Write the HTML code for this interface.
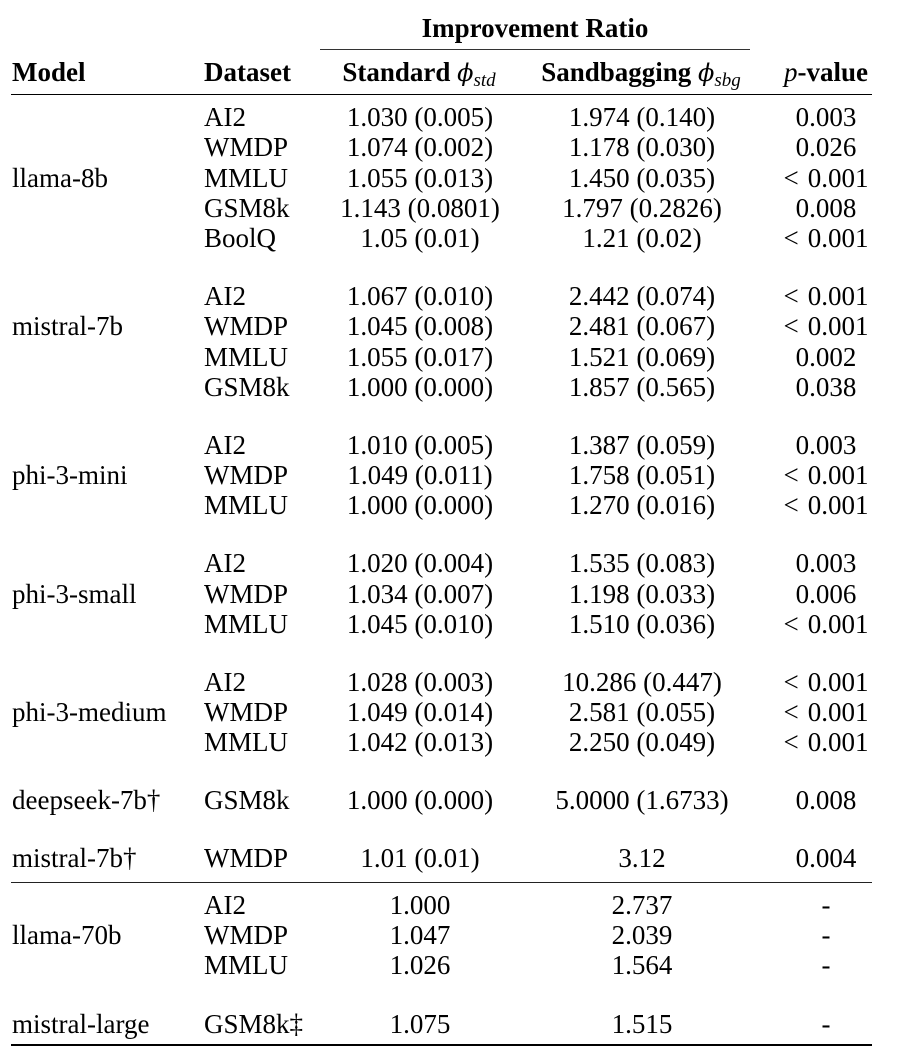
<!DOCTYPE html>
<html>
<head>
<meta charset="utf-8">
<style>
  html, body { margin:0; padding:0; background:#fff; }
  body { width:902px; height:1057px; position:relative; overflow:hidden;
         font-family:"Liberation Serif", "Times New Roman", serif; font-size:27px; color:#000; }
  .r { position:absolute; left:0; width:902px; height:30px; line-height:30px; white-space:nowrap; margin-top:1px; }
  .r span.c { position:absolute; top:0; }
  .c1 { left:12px; }
  .c2 { left:204px; }
  .c3 { left:320px; width:200px; text-align:center; }
  .c4 { left:542px; width:200px; text-align:center; }
  .c5 { left:726px; width:200px; text-align:center; }
  .b { font-weight:bold; }
  .m { font-style:italic; }
  .sub { font-style:italic; font-size:19px; position:relative; top:5px; }
  .lt { margin-right:9px; }
  .rule { position:absolute; background:#000; }
</style>
</head>
<body>

<!-- header -->
<div class="r" style="top:12px"><span class="c b" style="left:385px;width:300px;text-align:center;">Improvement Ratio</span></div>
<div class="rule" style="left:320px;top:49px;width:430px;height:1px;background:#333;"></div>
<div class="r" style="top:56px">
  <span class="c c1 b">Model</span>
  <span class="c c2 b">Dataset</span>
  <span class="c c3 b" style="left:319px;">Standard <span class="m" style="font-weight:normal;font-family:'DejaVu Serif','Liberation Serif',serif;font-size:24px;">ϕ</span><span class="sub" style="font-weight:normal;">std</span></span>
  <span class="c c4 b" style="left:541px;">Sandbagging <span class="m" style="font-weight:normal;font-family:'DejaVu Serif','Liberation Serif',serif;font-size:24px;">ϕ</span><span class="sub" style="font-weight:normal;">sbg</span></span>
  <span class="c c5 b"><span class="m" style="font-weight:normal;">p</span>-value</span>
</div>
<div class="rule" style="left:11px;top:94px;width:861px;height:1.4px;"></div>

<!-- llama-8b -->
<div class="r" style="top:101px"><span class="c c2">AI2</span><span class="c c3">1.030 (0.005)</span><span class="c c4">1.974 (0.140)</span><span class="c c5">0.003</span></div>
<div class="r" style="top:131px"><span class="c c2">WMDP</span><span class="c c3">1.074 (0.002)</span><span class="c c4">1.178 (0.030)</span><span class="c c5">0.026</span></div>
<div class="r" style="top:161.5px"><span class="c c1">llama-8b</span><span class="c c2">MMLU</span><span class="c c3">1.055 (0.013)</span><span class="c c4">1.450 (0.035)</span><span class="c c5"><span class="lt">&lt;</span>0.001</span></div>
<div class="r" style="top:192px"><span class="c c2">GSM8k</span><span class="c c3">1.143 (0.0801)</span><span class="c c4">1.797 (0.2826)</span><span class="c c5">0.008</span></div>
<div class="r" style="top:222px"><span class="c c2">BoolQ</span><span class="c c3">1.05 (0.01)</span><span class="c c4">1.21 (0.02)</span><span class="c c5"><span class="lt">&lt;</span>0.001</span></div>

<!-- mistral-7b -->
<div class="r" style="top:280px"><span class="c c2">AI2</span><span class="c c3">1.067 (0.010)</span><span class="c c4">2.442 (0.074)</span><span class="c c5"><span class="lt">&lt;</span>0.001</span></div>
<div class="r" style="top:310px"><span class="c c1">mistral-7b</span><span class="c c2">WMDP</span><span class="c c3">1.045 (0.008)</span><span class="c c4">2.481 (0.067)</span><span class="c c5"><span class="lt">&lt;</span>0.001</span></div>
<div class="r" style="top:340.5px"><span class="c c2">MMLU</span><span class="c c3">1.055 (0.017)</span><span class="c c4">1.521 (0.069)</span><span class="c c5">0.002</span></div>
<div class="r" style="top:371px"><span class="c c2">GSM8k</span><span class="c c3">1.000 (0.000)</span><span class="c c4">1.857 (0.565)</span><span class="c c5">0.038</span></div>

<!-- phi-3-mini -->
<div class="r" style="top:429px"><span class="c c2">AI2</span><span class="c c3">1.010 (0.005)</span><span class="c c4">1.387 (0.059)</span><span class="c c5">0.003</span></div>
<div class="r" style="top:459px"><span class="c c1">phi-3-mini</span><span class="c c2">WMDP</span><span class="c c3">1.049 (0.011)</span><span class="c c4">1.758 (0.051)</span><span class="c c5"><span class="lt">&lt;</span>0.001</span></div>
<div class="r" style="top:489px"><span class="c c2">MMLU</span><span class="c c3">1.000 (0.000)</span><span class="c c4">1.270 (0.016)</span><span class="c c5"><span class="lt">&lt;</span>0.001</span></div>

<!-- phi-3-small -->
<div class="r" style="top:547px"><span class="c c2">AI2</span><span class="c c3">1.020 (0.004)</span><span class="c c4">1.535 (0.083)</span><span class="c c5">0.003</span></div>
<div class="r" style="top:577.5px"><span class="c c1">phi-3-small</span><span class="c c2">WMDP</span><span class="c c3">1.034 (0.007)</span><span class="c c4">1.198 (0.033)</span><span class="c c5">0.006</span></div>
<div class="r" style="top:608px"><span class="c c2">MMLU</span><span class="c c3">1.045 (0.010)</span><span class="c c4">1.510 (0.036)</span><span class="c c5"><span class="lt">&lt;</span>0.001</span></div>

<!-- phi-3-medium -->
<div class="r" style="top:666px"><span class="c c2">AI2</span><span class="c c3">1.028 (0.003)</span><span class="c c4">10.286 (0.447)</span><span class="c c5"><span class="lt">&lt;</span>0.001</span></div>
<div class="r" style="top:696px"><span class="c c1">phi-3-medium</span><span class="c c2">WMDP</span><span class="c c3">1.049 (0.014)</span><span class="c c4">2.581 (0.055)</span><span class="c c5"><span class="lt">&lt;</span>0.001</span></div>
<div class="r" style="top:726px"><span class="c c2">MMLU</span><span class="c c3">1.042 (0.013)</span><span class="c c4">2.250 (0.049)</span><span class="c c5"><span class="lt">&lt;</span>0.001</span></div>

<!-- deepseek -->
<div class="r" style="top:784px"><span class="c c1">deepseek-7b†</span><span class="c c2">GSM8k</span><span class="c c3">1.000 (0.000)</span><span class="c c4">5.0000 (1.6733)</span><span class="c c5">0.008</span></div>

<!-- mistral-7b dagger -->
<div class="r" style="top:842px"><span class="c c1">mistral-7b†</span><span class="c c2">WMDP</span><span class="c c3">1.01 (0.01)</span><span class="c c4">3.12</span><span class="c c5">0.004</span></div>

<div class="rule" style="left:11px;top:882px;width:861px;height:1.4px;background:#222;"></div>

<!-- llama-70b -->
<div class="r" style="top:889px"><span class="c c2">AI2</span><span class="c c3">1.000</span><span class="c c4">2.737</span><span class="c c5">-</span></div>
<div class="r" style="top:919px"><span class="c c1">llama-70b</span><span class="c c2">WMDP</span><span class="c c3">1.047</span><span class="c c4">2.039</span><span class="c c5">-</span></div>
<div class="r" style="top:949px"><span class="c c2">MMLU</span><span class="c c3">1.026</span><span class="c c4">1.564</span><span class="c c5">-</span></div>

<!-- mistral-large -->
<div class="r" style="top:1008px"><span class="c c1">mistral-large</span><span class="c c2">GSM8k‡</span><span class="c c3">1.075</span><span class="c c4">1.515</span><span class="c c5">-</span></div>

<div class="rule" style="left:11px;top:1044px;width:861px;height:2.2px;"></div>

</body>
</html>
